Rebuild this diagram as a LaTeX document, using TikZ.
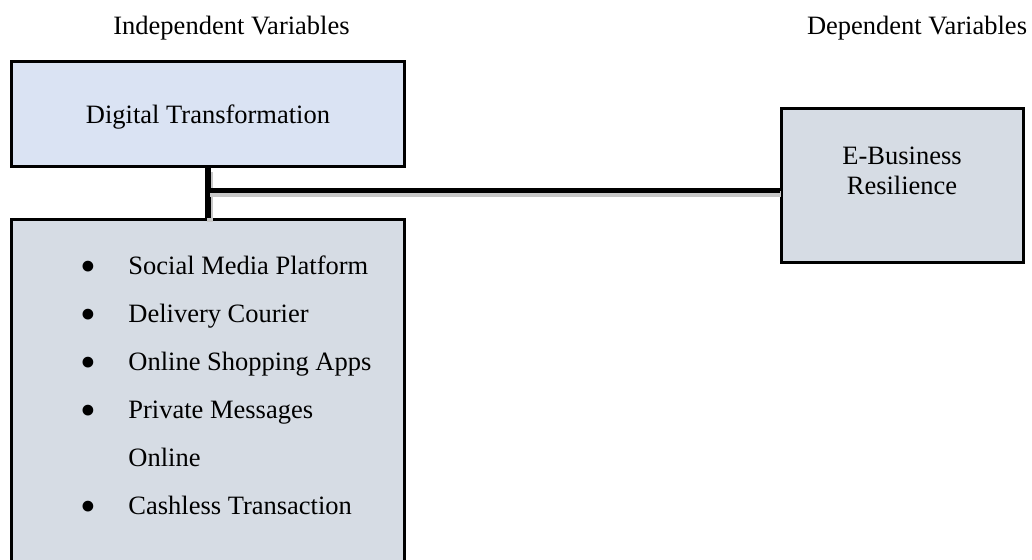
\documentclass[tikz,border=0pt]{standalone}
\usepackage{fontspec}
\setmainfont{Liberation Serif}
\usepackage{xcolor}
\usepackage{tikz}
\usetikzlibrary{positioning, calc}
\definecolor{dtBlue}{HTML}{DAE3F3}
\definecolor{dtGray}{HTML}{D6DCE4}
\newcommand{\dtbullet}{\raisebox{-3.3pt}{\fontsize{22.5pt}{22.5pt}\selectfont\textbullet}}

\begin{document}
\begin{tikzpicture}[
  x=0.5pt, y=-0.5pt, font=\fontsize{13.25pt}{24pt}\selectfont,
  dtbox/.style={draw=black, line width=1.5pt, fill=dtBlue, minimum width=196.5pt,
                minimum height=52.5pt, inner sep=0pt, align=center},
  grpbox/.style={dtbox, fill=dtGray},
  hdr/.style={anchor=base, inner sep=0pt},
  link/.style={line width=2.7pt,
               preaction={draw=black!22, line width=3pt,
                          transform canvas={shift={(0.8pt,-2pt)}}}},
]
\clip (0,0) rectangle (1032,560);

\node[hdr] (indep) at (231.5,35) {Independent Variables};
\node[hdr] (dep) at (917,35) {Dependent Variables};

\node[dtbox, text depth=0pt, text height=9.5pt] (dig) at (208,114) {Digital Transformation};
\node[grpbox, minimum height=200pt, below=25pt of dig] (items) {};
\node[anchor=base west, inner sep=0pt] (list) at ($(items.north west)+(70,57)$) {%
  \begin{tabular}[t]{@{}p{24pt}@{}l@{}}
    \dtbullet & Social Media Platform\\
    \dtbullet & Delivery Courier\\
    \dtbullet & Online Shopping Apps\\
    \dtbullet & Private Messages\\
              & Online\\
    \dtbullet & Cashless Transaction
  \end{tabular}};

\node[grpbox, minimum width=121pt, minimum height=77pt] (res) at (902,185.5) {};
\node[anchor=north, inner sep=0pt, align=center,
      font=\fontsize{13.25pt}{15pt}\selectfont] (restxt) at (902,147)
  {E-Business\\Resilience};

% connectors
\coordinate (jn) at ($(dig.south)!0.45!(items.north)$);
\draw[link] (dig.south) -- (items.north);
\draw[link] (jn) -- (jn -| res.west);
\end{tikzpicture}
\end{document}
